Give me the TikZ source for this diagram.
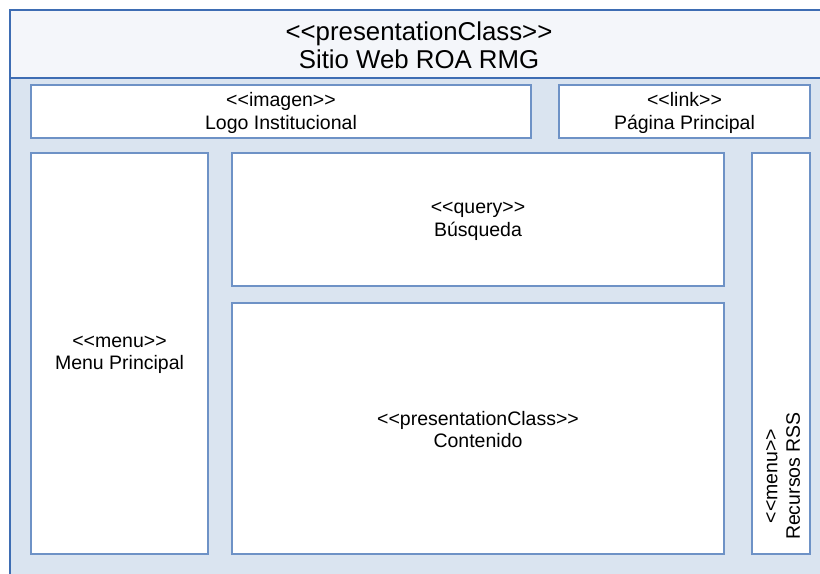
\documentclass[tikz,border=0pt]{standalone}
\usepackage{fontspec}
\setmainfont{Liberation Sans}[Ligatures=ResetAll]
\newcommand\stopen{<\kern0pt<}
\newcommand\stclose{>\kern0pt>}
\definecolor{frameblue}{HTML}{3E6DB3}
\definecolor{boxblue}{HTML}{6E92C6}
\definecolor{panelfill}{HTML}{DAE4F0}
\definecolor{headfill}{HTML}{F4F6FA}
\begin{document}
\begin{tikzpicture}[x=1bp,y=-1bp,
  part/.style={draw=boxblue, line width=1.3bp, fill=white},
  label/.style={align=center, font=\fontsize{19.5bp}{22.5bp}\selectfont, inner sep=0pt},
  title/.style={align=center, font=\fontsize{25.8bp}{28.4bp}\selectfont, inner sep=0pt}]
\useasboundingbox (0,0) rectangle (820,574);
% page container and header band
\fill[panelfill] (10,10) rectangle (840,600);
\fill[headfill] (10,10) rectangle (840,78);
\draw[frameblue, line width=1.4bp] (840,10) -- (10,10) -- (10,600);
\draw[frameblue, line width=1.4bp] (10,78) -- (840,78);
\node[title] (site) at (419,45) {\stopen presentationClass\stclose\\Sitio Web ROA RMG};
% inner parts
\draw[part] (31,85) rectangle (531,138);
\node[label] (logo) at (281,113) {\stopen imagen\stclose\\Logo Institucional};
\draw[part] (559,85) rectangle (810,138);
\node[label] (home) at (684.5,113) {\stopen link\stclose\\Página Principal};
\draw[part] (31,153) rectangle (208,554);
\node[label] (menu) at (119.5,355) {\stopen menu\stclose\\Menu Principal};
\draw[part] (232,153) rectangle (724,286);
\node[label] (search) at (478,221.5) {\stopen query\stclose\\Búsqueda};
\draw[part] (232,303) rectangle (724,554);
\node[label] (content) at (478,429.5) {\stopen presentationClass\stclose\\Contenido};
\draw[part] (752,153) rectangle (810,554);
\node[label, rotate=90] (rss) at (783,476) {\stopen menu\stclose\\Recursos RSS};
\end{tikzpicture}
\end{document}
